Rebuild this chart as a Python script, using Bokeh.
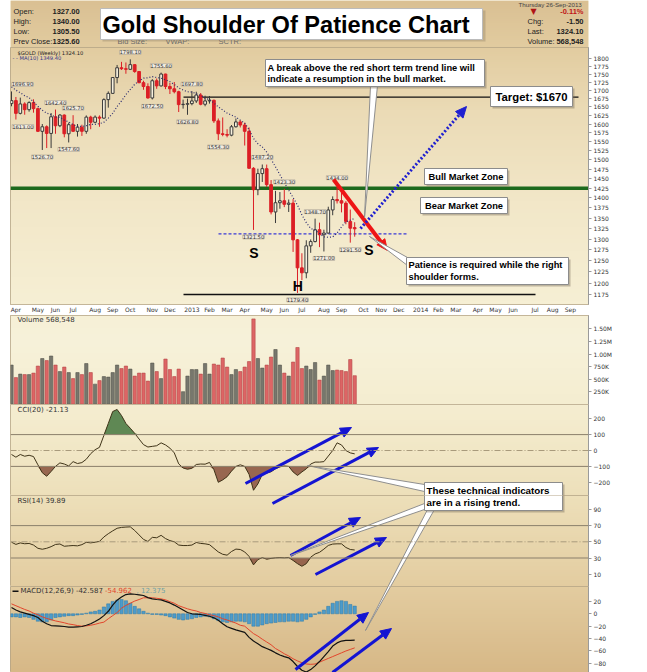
import math
import numpy as np
from datetime import date
from bokeh.plotting import figure
from bokeh.layouts import column
from bokeh.models import (Range1d, LinearScale, FixedTicker, PrintfTickFormatter,
                          Span, Label, ColumnDataSource)
from bokeh.core.properties import value
from bokeh.embed import file_html
from bokeh.resources import INLINE

# ------------------------------------------------------------------ data
FIRST_MONDAY = date(2012, 3, 26)      # first weekly bar

OPEN = [1660, 1669, 1631, 1659, 1642, 1663, 1645, 1579, 1592, 1573,
        1621, 1595, 1626, 1572, 1598, 1579, 1591, 1579, 1620, 1605,
        1620, 1617, 1672, 1691, 1740, 1771, 1768, 1766, 1781, 1759,
        1724, 1712, 1677, 1730, 1714, 1751, 1712, 1705, 1696, 1657,
        1658, 1660, 1668, 1686, 1658, 1668, 1670, 1609, 1572, 1570,
        1568, 1592, 1606, 1597, 1579, 1477, 1421, 1463, 1476, 1434,
        1365, 1388, 1393, 1384, 1387, 1298, 1234, 1223, 1284, 1294,
        1322, 1310, 1314, 1370, 1396, 1393, 1387, 1342, 1327]
HIGH = [1696.9, 1680, 1678, 1664, 1667, 1673, 1648, 1600, 1596, 1632,
        1642.4, 1629, 1628, 1604, 1625.7, 1600, 1598, 1625, 1624, 1625,
        1625, 1676, 1697, 1741, 1780, 1790, 1788, 1798.1, 1782, 1760,
        1730, 1722, 1735, 1737, 1755.6, 1752, 1723, 1726, 1699, 1672,
        1675, 1697.8, 1696, 1692, 1684, 1683, 1672, 1616, 1619, 1585,
        1597, 1616, 1611, 1604, 1590, 1480, 1476, 1487.2, 1487, 1446,
        1418, 1415, 1423.3, 1396, 1397, 1300, 1267, 1297, 1299, 1348.7,
        1339, 1322, 1378, 1404, 1434, 1417, 1392, 1371, 1340]
LOW = [1652, 1613, 1628, 1627, 1636, 1633, 1577, 1526.7, 1532, 1532,
       1572, 1591, 1562, 1547.6, 1577, 1564, 1566, 1572, 1585, 1602,
       1592, 1615, 1648, 1690, 1722, 1764, 1752, 1765, 1755, 1722,
       1702, 1675, 1672.5, 1705, 1712, 1704, 1689, 1691, 1635, 1645,
       1626.8, 1655, 1662, 1655, 1652, 1660, 1603, 1554.3, 1565, 1562,
       1565, 1590, 1590, 1539, 1476, 1321.5, 1407, 1441, 1428, 1359,
       1338, 1373, 1377, 1365, 1270, 1179.4, 1207, 1211, 1268, 1292,
       1281, 1271, 1313, 1357, 1386, 1364, 1335, 1291.5, 1305.5]
CLOSE = [1669, 1631, 1659, 1642, 1663, 1645, 1579, 1592, 1573, 1621,
         1595, 1626, 1572, 1598, 1579, 1591, 1579, 1620, 1605, 1620,
         1617, 1672, 1691, 1740, 1771, 1768, 1766, 1781, 1759, 1724,
         1712, 1677, 1730, 1714, 1751, 1712, 1705, 1696, 1657, 1658,
         1660, 1668, 1686, 1658, 1668, 1670, 1609, 1572, 1570, 1568,
         1592, 1606, 1597, 1579, 1477, 1421, 1463, 1476, 1434, 1365,
         1388, 1393, 1384, 1387, 1298, 1234, 1223, 1284, 1294, 1322,
         1310, 1314, 1370, 1396, 1393, 1387, 1342, 1325.6, 1324.1]
MA10 = [1711, 1701, 1693, 1684, 1678, 1665, 1652, 1640, 1632, 1627,
        1620, 1620, 1611, 1606, 1598, 1593, 1593, 1595, 1599, 1599,
        1601, 1605, 1617, 1631, 1651, 1668, 1687, 1703, 1719, 1729,
        1738, 1739, 1743, 1740, 1738, 1733, 1727, 1718, 1708, 1701,
        1696, 1695, 1690, 1685, 1676, 1672, 1662, 1650, 1641, 1632,
        1626, 1620, 1611, 1603, 1584, 1559, 1544, 1535, 1521, 1501,
        1481, 1460, 1439, 1420, 1401, 1382, 1358, 1339, 1325, 1321,
        1313, 1305, 1304, 1305, 1314, 1329, 1341, 1345, 1349.4]
VOLUME = [780000, 530000, 600000, 590000, 590000, 620000, 760000, 910000, 870000, 960000,
          780000, 650000, 740000, 630000, 510000, 630000, 590000, 810000, 630000, 400000,
          470000, 550000, 540000, 630000, 780000, 710000, 760000, 700000, 560000, 620000,
          620000, 460000, 820000, 650000, 510000, 900000, 690000, 550000, 700000, 250000,
          560000, 690000, 690000, 600000, 810000, 600000, 800000, 780000, 920000, 740000,
          590000, 690000, 650000, 740000, 850000, 1700000, 910000, 720000, 780000, 940000,
          1090000, 780000, 620000, 560000, 840000, 1130000, 710000, 760000, 690000, 830000,
          480000, 560000, 780000, 670000, 680000, 670000, 650000, 890000, 568548]
VOLUME_UP = [1, 0, 1, 0, 1, 0, 0, 1, 0, 1,
             0, 1, 0, 1, 0, 1, 0, 1, 0, 1,
             0, 1, 1, 1, 1, 0, 0, 1, 0, 0,
             0, 0, 1, 0, 1, 0, 0, 0, 0, 1,
             1, 1, 1, 0, 1, 1, 0, 0, 0, 0,
             1, 1, 0, 0, 0, 0, 1, 1, 0, 0,
             1, 1, 0, 1, 0, 0, 0, 1, 1, 1,
             0, 1, 1, 1, 0, 0, 0, 0, 0]
CCI20 = [-25, -42, -25, -36, -30, -38, -90, -140, -162, -132,
         -100, -78, -85, -97, -70, -82, -76, -55, -20, 5,
         20, 95, 170, 245, 258, 220, 170, 140, 108, 72,
         37, 22, 26, 30, 48, 35, 15, -15, -84, -110,
         -118, -112, -88, -85, -86, -75, -120, -200, -185, -165,
         -130, -100, -90, -100, -150, -250, -210, -150, -142, -134,
         -115, -103, -97, -100, -135, -157, -135, -115, -85, -73,
         -73, -70, -35, 0, 48, 35, 0, -15, -21.13]
RSI14 = [49.5, 46.8, 48.6, 47.6, 48, 46, 42, 40.8, 42, 44,
         46.7, 47.3, 44.5, 45, 45.4, 45, 46.5, 49.4, 48.7, 49.5,
         50.5, 56, 60, 63.5, 66.7, 67.8, 68.2, 68.5, 64, 58.5,
         53, 50.4, 55.5, 55, 58, 54, 51.5, 50, 46, 45.4,
         45.4, 46, 49.2, 48, 47.5, 46.5, 42, 37.5, 34.6, 33.5,
         38, 41, 40.5, 37.5, 32, 21.5, 28, 30.5, 28.5, 29.5,
         30.2, 30.5, 30.2, 30.6, 27, 23, 19.8, 23, 31, 35,
         37, 41, 45.5, 47.2, 47.5, 47.5, 43, 40.5, 39.89]
MACD_LINE = [10, 6, 3, 1, -1, -3, -6, -12, -16, -19,
             -19.5, -20, -20.5, -21.5, -21.5, -21, -20.5, -18.5, -16, -12.5,
             -8.5, -3, 4, 14, 22, 27, 31, 32, 31.5, 30.5,
             29.5, 26, 24, 23, 22.5, 20, 17.5, 14, 10, 6,
             2, 0, -0.5, -1.1, -2.5, -4, -6.5, -10.5, -16, -21,
             -23.5, -26, -28, -30, -38, -44, -48.5, -53, -56, -59,
             -63, -66.5, -69, -71, -77, -85, -91, -94, -90, -84,
             -77, -69, -61, -52, -47, -44, -43, -42.8, -42.587]
MACD_SIGNAL = [16, 13, 10, 7, 4.5, 1, -1.5, -5, -7.5, -9.5,
               -11.5, -13, -14.5, -16.5, -17.5, -19, -20, -19.5, -18.5, -17,
               -15, -13.5, -8, -3, 2, 9, 13.5, 17, 20.5, 23,
               25.8, 25.8, 25.8, 25, 24, 22.5, 19.5, 17, 13, 10.5,
               8, 6, 4.5, 2, 0.5, -1.5, -3, -5, -8, -10,
               -12.5, -15, -18.5, -20, -26, -32, -36, -41, -45.5, -50,
               -56, -60, -64.5, -68, -72.5, -76, -79, -81, -81.5, -81,
               -78, -75, -72, -69, -66, -63, -60, -57.5, -54.962]
MACD_HIST = [-5, -5, -6, -5, -6, -9, -12, -13, -13, -10,
             -6, -5, -4, -3, -3, -2, -1, 1, 3, 4,
             6, 11, 16, 20, 22, 23, 21, 17, 12, 8,
             4, 1, -1, -1, -2, -3, -5, -7, -9, -10,
             -9, -8, -6, -5, -4, -5, -8, -11, -13, -14,
             -13, -12, -12, -13, -16, -20, -20, -18, -16, -15,
             -14, -13, -13, -12, -12, -13, -12, -9, -5, -1,
             3, 6, 12, 17, 20, 21, 20, 15, 12.375]

# highs / lows that carry a value label
PEAK_BARS = [0, 1, 7, 10, 13, 14, 27, 32, 34, 40, 41, 47, 55, 57, 62, 65, 69, 71, 74, 77]
PEAK_KIND = ["H", "L", "L", "H", "L", "H", "H", "L", "H", "L",
             "H", "L", "L", "H", "H", "L", "H", "L", "H", "L"]

MONTH_LABELS = ["Apr", "May", "Jun", "Jul", "Aug", "Sep", "Oct", "Nov", "Dec", "2013",
                "Feb", "Mar", "Apr", "May", "Jun", "Jul", "Aug", "Sep", "Oct", "Nov",
                "Dec", "2014", "Feb", "Mar", "Apr", "May", "Jun", "Jul", "Aug", "Sep"]
PRICE_TICKS = [1175, 1200, 1225, 1250, 1275, 1300, 1325, 1350, 1375, 1400, 1425, 1450, 1475,
               1500, 1525, 1550, 1575, 1600, 1625, 1650, 1675, 1700, 1725, 1750, 1775, 1800]
VOLUME_TICKS = [250000, 500000, 750000, 1000000, 1250000, 1500000]
VOLUME_TICK_LABELS = ["250K", "500K", "750K", "1.00M", "1.25M", "1.50M"]
CCI_TICKS = [-200, -100, 0, 100, 200]
RSI_TICKS = [10, 30, 50, 70, 90]
MACD_TICKS = [20, 0, -20, -40, -60, -80]

TITLE = "Gold Shoulder Of Patience  Chart"
DATE_TEXT = "Thursday  26-Sep-2013"
NOTE_BREAK = ["A break above the red short term trend line will",
              "indicate a resumption in the bull market."]
NOTE_PATIENCE = ["Patience is required while the right", "shoulder forms."]
NOTE_INDICATORS = ["These technical indicators", "are in a rising trend."]
TARGET_TEXT = "Target: $1670"

# ------------------------------------------------------------------ layout helpers
FRAME_W = 578
LEFT = 10
SANS = "Liberation Sans"
VERD = "DejaVu Sans"
XR = Range1d(-0.227, 131.14)          # weekly bar index

BG_Y = [0, 47, 110, 200, 300, 340, 420, 500, 580, 672]
BG_R = [218, 226, 235, 242, 246, 247, 244, 237, 228, 215]
BG_G = [192, 204, 219, 231, 239, 242, 236, 223, 206, 184]
BG_B = [147, 160, 182, 200, 212, 218, 206, 185, 162, 135]


def add_bg(p, top, bottom):
    h = bottom - top
    rows = max(2, h // 2)
    cols = FRAME_W // 2
    ys = bottom - (np.arange(rows) + 0.5) * h / rows
    img = np.empty((rows, cols), dtype=np.uint32)
    v = img.view(dtype=np.uint8).reshape((rows, cols, 4))
    v[:, :, 0] = np.interp(ys, BG_Y, BG_R)[:, None]
    v[:, :, 1] = np.interp(ys, BG_Y, BG_G)[:, None]
    v[:, :, 2] = np.interp(ys, BG_Y, BG_B)[:, None]
    v[:, :, 3] = 255
    p.image_rgba(image=[img], x=0, y=0, dw=1, dh=1, x_range_name="bg",
                 y_range_name="bg", level="image")


def make_fig(top, bottom, y_range=None, log=False, date_axis=False, axes=True):
    kw = dict(frame_width=FRAME_W, frame_height=bottom - top,
              output_backend="svg", toolbar_location=None, title=None,
              min_border=0, min_border_left=LEFT, min_border_right=34,
              min_border_bottom=11 if date_axis else 0)
    if axes:
        p = figure(x_range=XR, y_range=y_range, y_axis_type="log" if log else "linear",
                   y_axis_location="right",
                   x_axis_location="below" if date_axis else None, **kw)
    else:
        p = figure(x_range=Range1d(10, 588), y_range=Range1d(bottom, top),
                   x_axis_location=None, y_axis_location=None, **kw)
    p.border_fill_color = "white"
    p.background_fill_color = "#efe3c2"
    p.outline_line_color = "#b3a385" if axes else None
    p.grid.visible = False
    p.extra_x_ranges = {"px": Range1d(10, 588), "bg": Range1d(0, 1)}
    p.extra_y_ranges = {"px": Range1d(bottom, top), "bg": Range1d(0, 1)}
    p.extra_x_scales = {"px": LinearScale(), "bg": LinearScale()}
    p.extra_y_scales = {"px": LinearScale(), "bg": LinearScale()}
    add_bg(p, top, bottom)
    return p


def style_yaxis(p, ticks):
    ax = p.yaxis[0]
    ax.ticker = FixedTicker(ticks=ticks)
    ax.major_label_text_font = VERD
    ax.major_label_text_font_size = "6px"
    ax.major_label_text_color = "#333333"
    ax.major_tick_out = 3
    ax.major_tick_in = 0
    ax.minor_tick_line_color = None
    ax.axis_line_color = "#9a9a9a"
    ax.major_tick_line_color = "#9a9a9a"
    ax.major_label_standoff = 2
    return ax


def text_px(p, x, y, s, size, color="#000000", bold=False, align="left", font=SANS):
    p.text(x=[x], y=[y], text=[s], text_font=value(font), text_font_size=f"{size}px",
           text_font_style="bold" if bold else "normal", text_color=color,
           text_align=align, text_baseline="middle", x_range_name="px", y_range_name="px")


def line_px(p, xs, ys, color, width, dash="solid"):
    p.line(xs, ys, line_color=color, line_width=width, line_dash=dash,
           x_range_name="px", y_range_name="px")


def arrow_px(p, x0, y0, x1, y1, color, width, dash="solid", hl=10.0, hw=9.0):
    dx, dy = x1 - x0, y1 - y0
    L = math.hypot(dx, dy)
    ux, uy = dx / L, dy / L
    bx, by = x1 - ux * hl, y1 - uy * hl
    line_px(p, [x0, bx], [y0, by], color, width, dash)
    nx, ny = -uy, ux
    p.patch([x1, bx + nx * hw / 2, bx - nx * hw / 2], [y1, by + ny * hw / 2, by - ny * hw / 2],
            fill_color=color, line_color=color, line_width=1,
            x_range_name="px", y_range_name="px")


def box_px(p, x0, y0, x1, y1, shadow=True):
    if shadow:
        p.quad(left=x0 + 2, right=x1 + 2, top=y0 + 2, bottom=y1 + 2, fill_color="#7d715f",
               fill_alpha=0.45, line_alpha=0, x_range_name="px", y_range_name="px")
    p.quad(left=x0, right=x1, top=y0, bottom=y1, fill_color="white", line_color="#8c8c8c",
           line_width=1, x_range_name="px", y_range_name="px")


def wedge_px(p, b0, b1, apex):
    p.patch([b0[0], b1[0], apex[0]], [b0[1], b1[1], apex[1]], fill_color="white",
            line_color="#8f8f8f", line_width=1, x_range_name="px", y_range_name="px")


def tag(p, y, s, border="#555555", bold=False, fill="white", color="#111111"):
    p.add_layout(Label(x=FRAME_W + 2, y=y, x_units="screen", y_units="data", text=s,
                       text_font=VERD, text_font_size="5.8px",
                       text_font_style="bold" if bold else "normal", text_color=color,
                       text_align="left", text_baseline="middle",
                       background_fill_color=fill, border_line_color=border,
                       border_line_width=0.8))


bars = np.arange(len(CLOSE))

# ------------------------------------------------------------------ header
head = make_fig(0, 47, axes=False)
rows_y = [11, 21, 31, 41]
for lab, val, yy in zip(["Open:", "High:", "Low:", "Prev Close:"],
                        [OPEN[-1], HIGH[-1], LOW[-1], CLOSE[-2]], rows_y):
    text_px(head, 13, yy, lab, 7.5, "#222222")
    text_px(head, 52, yy, f"{val:.2f}", 7.5, "#222222", bold=True)
for lab, xx in [("Bid Size:", 117), ("VWAP:", 165), ("SCTR:", 218)]:
    text_px(head, xx, 41, lab, 7.5, "#6a6a6a")
chg = CLOSE[-1] - CLOSE[-2]
text_px(head, 583, 3.6, DATE_TEXT, 6.2, "#444444", align="right")
text_px(head, 530, 11, "\u25bc", 8, "#b01515", font=VERD)
text_px(head, 583, 11, f"{chg / CLOSE[-2] * 100:.2f}%", 7.5, "#c01818", bold=True, align="right")
for lab, val, yy in [("Chg:", f"{chg:.2f}", 21), ("Last:", f"{CLOSE[-1]:.2f}", 31),
                     ("Volume:", f"{VOLUME[-1]:,}", 41)]:
    text_px(head, 527, yy, lab, 7.5, "#222222")
    text_px(head, 583, yy, val, 7.5, "#222222", bold=True, align="right")
head.quad(left=102, right=485, top=10, bottom=41, fill_color="#8a7a60", fill_alpha=0.35,
          line_alpha=0, x_range_name="px", y_range_name="px")
head.quad(left=100, right=482, top=8, bottom=39, fill_color="white", line_color="#bbbbbb",
          x_range_name="px", y_range_name="px")
text_px(head, 102, 24, TITLE, 23.6, "#000000", bold=True)

# ------------------------------------------------------------------ price panel
price = make_fig(47, 304, Range1d(1155, 1837), log=True, date_axis=True)
ax = style_yaxis(price, PRICE_TICKS)
ax.formatter = PrintfTickFormatter(format="%d")

month_ticks = []
yy_, mm_ = 2012, 4
for _ in MONTH_LABELS:
    days = (date(yy_, mm_, 1) - FIRST_MONDAY).days
    month_ticks.append(-(-days // 7))
    mm_ += 1
    if mm_ > 12:
        mm_, yy_ = 1, yy_ + 1
xa = price.xaxis[0]
xa.ticker = FixedTicker(ticks=month_ticks)
xa.major_label_overrides = {t: s for t, s in zip(month_ticks, MONTH_LABELS)}
xa.major_label_text_font = VERD
xa.major_label_text_font_size = "6px"
xa.major_label_text_color = "#333333"
xa.axis_line_color = None
xa.major_tick_line_color = None
xa.minor_tick_line_color = None
xa.major_tick_out = 0
xa.major_tick_in = 0
xa.minor_tick_out = 0
xa.minor_tick_in = 0
xa.major_label_standoff = 1

# support / resistance lines
line_px(price, [183, 578], [96.7, 96.7], "#111111", 1.3)
line_px(price, [10, 588], [187.7, 187.7], "#1d6a1d", 3.5)
line_px(price, [183, 535], [294, 294], "#111111", 1.3)
line_px(price, [218, 408], [233.3, 233.3], "#3a3ad6", 1.2, "3 2")

o = np.array(OPEN); c = np.array(CLOSE)
down = c < o
csrc = ColumnDataSource(dict(
    x=bars, top=np.maximum(o, c), bottom=np.minimum(o, c), high=HIGH, low=LOW,
    fill=["#dc1f26" if d else "#f7f1de" for d in down],
    line=["#dc1f26" if d else "#3a3a3a" for d in down]))
price.segment(x0="x", y0="low", x1="x", y1="high", line_color="line", line_width=1, source=csrc)
price.vbar(x="x", top="top", bottom="bottom", width=0.62, fill_color="fill",
           line_color="line", line_width=1, source=csrc)
price.line(bars, MA10, line_color="#2b2b70", line_width=1.2, line_dash="1 2")

lab_val = [HIGH[b] if k == "H" else LOW[b] for b, k in zip(PEAK_BARS, PEAK_KIND)]
EDGE_SHIFT = {0: 11, 1: 7}            # keep the two left-most labels inside the frame
lsrc = ColumnDataSource(dict(
    x=PEAK_BARS, y=lab_val, text=[f"{v:.2f}" for v in lab_val],
    yo=[-7 if k == "H" else 7 for k in PEAK_KIND],
    xo=[EDGE_SHIFT.get(b, 0) for b in PEAK_BARS]))
price.text(x="x", y="y", text="text", x_offset="xo", y_offset="yo", source=lsrc,
           text_font=value(VERD), text_font_size="5.2px", text_align="center",
           text_baseline="middle", text_color="#333333",
           background_fill_color="#f1ece0", border_line_color="#a8a090",
           border_line_width=0.6)

# trend arrows
arrow_px(price, 333, 179, 387, 250, "#ee1515", 4, hl=11, hw=10)
arrow_px(price, 360, 228, 466, 106, "#1f1fd0", 3, dash="2 2", hl=11, hw=10)

# callouts
wedge_px(price, (370, 85), (377, 85), (364, 217))
wedge_px(price, (407, 257), (407, 265), (369, 236))
box_px(price, 265, 59, 484, 86)
text_px(price, 267, 67, NOTE_BREAK[0], 9.3, bold=True)
text_px(price, 267, 78.7, NOTE_BREAK[1], 9.3, bold=True)
box_px(price, 490, 86, 572, 106)
text_px(price, 531, 96, TARGET_TEXT, 11.3, bold=True, align="center")
box_px(price, 424, 168, 507, 184)
text_px(price, 465.5, 176, "Bull Market Zone", 9.3, bold=True, align="center")
box_px(price, 420, 197, 507, 213)
text_px(price, 463.5, 205, "Bear Market Zone", 9.3, bold=True, align="center")
box_px(price, 406, 257, 568, 284)
text_px(price, 408, 264.7, NOTE_PATIENCE[0], 9.3, bold=True)
text_px(price, 408, 276, NOTE_PATIENCE[1], 9.3, bold=True)
text_px(price, 253.3, 252, "S", 14, bold=True, align="center")
text_px(price, 297.3, 285, "H", 14, bold=True, align="center")
text_px(price, 368.3, 249, "S", 14, bold=True, align="center")
text_px(price, 17, 52, f"$GOLD (Weekly) {CLOSE[-1]:.2f}", 5.2, "#222222", font=VERD)
text_px(price, 12, 57, f"- - MA(10) {MA10[-1]:.2f}", 5.2, "#34348a", font=VERD)
tag(price, MA10[-1], f"{MA10[-1]:.2f}", border="#5a64a0")
tag(price, CLOSE[-1], f"{CLOSE[-1]:.2f}", border="#111111", bold=True)

# ------------------------------------------------------------------ volume panel
vol = make_fig(315, 404, Range1d(-5940, 1768000))
vax = style_yaxis(vol, VOLUME_TICKS)
vax.major_label_overrides = {t: s for t, s in zip(VOLUME_TICKS, VOLUME_TICK_LABELS)}
vsrc = ColumnDataSource(dict(x=bars, top=VOLUME,
                             fill=["#77776d" if u else "#dd6565" for u in VOLUME_UP],
                             line=["#55554d" if u else "#b54848" for u in VOLUME_UP]))
vol.vbar(x="x", top="top", bottom=0, width=0.75, fill_color="fill", line_color="line",
         line_width=0.6, source=vsrc)
text_px(vol, 17, 319, f"Volume {VOLUME[-1]:,}", 7, "#333333", font=VERD)
tag(vol, VOLUME[-1], f"{VOLUME[-1]:.1f}", border="#777777")

# ------------------------------------------------------------------ CCI panel
cci = make_fig(404, 495, Range1d(-283, 289.3))
style_yaxis(cci, CCI_TICKS)
cv = np.array(CCI20)
cci.varea(x=bars, y1=100, y2=np.maximum(cv, 100), fill_color="#4f7d47", fill_alpha=0.9)
cci.varea(x=bars, y1=-100, y2=np.minimum(cv, -100), fill_color="#8e5944", fill_alpha=0.9)
for lv in (100, -100):
    cci.add_layout(Span(location=lv, dimension="width", line_color="#8a7f6a", line_width=1))
cci.add_layout(Span(location=0, dimension="width", line_color="#a89a7c", line_width=1,
                    line_dash="6 2 1 2"))
cci.line(bars, CCI20, line_color="#3f3318", line_width=1)
text_px(cci, 17, 409.3, f"CCI(20) {CCI20[-1]:.2f}", 7, "#333333", font=VERD)
tag(cci, CCI20[-1], f"{CCI20[-1]:.2f}", border="#555555")

# ------------------------------------------------------------------ RSI panel
rsi = make_fig(495, 586, Range1d(-5.2, 107.2))
style_yaxis(rsi, RSI_TICKS)
rv = np.array(RSI14)
rsi.varea(x=bars, y1=30, y2=np.minimum(rv, 30), fill_color="#8e5944", fill_alpha=0.9)
rsi.varea(x=bars, y1=70, y2=np.maximum(rv, 70), fill_color="#4f7d47", fill_alpha=0.9)
for lv in (70, 30):
    rsi.add_layout(Span(location=lv, dimension="width", line_color="#8a7f6a", line_width=1))
rsi.add_layout(Span(location=50, dimension="width", line_color="#a89a7c", line_width=1,
                    line_dash="6 2 1 2"))
rsi.line(bars, RSI14, line_color="#3f3318", line_width=1)
text_px(rsi, 17, 500, f"RSI(14) {RSI14[-1]:.2f}", 7, "#333333", font=VERD)
tag(rsi, RSI14[-1], f"{RSI14[-1]:.2f}", border="#555555")

# ------------------------------------------------------------------ MACD panel
macd = make_fig(586, 672, Range1d(-94.7, 44.0))
style_yaxis(macd, MACD_TICKS)
macd.vbar(x=bars, top=MACD_HIST, bottom=0, width=0.75, fill_color="#4d9bca",
          line_color="#2f7aa8", line_width=0.5)
macd.line(bars, MACD_SIGNAL, line_color="#e2452c", line_width=1)
macd.line(bars, MACD_LINE, line_color="#111111", line_width=1.2)
line_px(macd, [12, 18], [590.7, 590.7], "#111111", 1.5)
text_px(macd, 20, 590.7, f"MACD(12,26,9) {MACD_LINE[-1]:.3f}", 7, "#333333", font=VERD)
text_px(macd, 100, 590.7, f", {MACD_SIGNAL[-1]:.3f}", 7, "#e2452c", font=VERD)
text_px(macd, 136, 590.7, f", {MACD_HIST[-1]:.3f}", 7, "#6fa3a8", font=VERD)
tag(macd, MACD_HIST[-1], f"{MACD_HIST[-1]:.3f}", border="#5e9cc6")
tag(macd, MACD_LINE[-1], f"{MACD_LINE[-1]:.3f}", border="#111111")
tag(macd, MACD_SIGNAL[-1], f"{MACD_SIGNAL[-1]:.3f}", border="#e2452c", fill="#fbe3e3")

# ------------------------------------------------------------------ overlays across indicator panels
BLUE_ARROWS = [(245, 483, 351, 427), (272, 503, 378, 447), (290, 555, 360, 517),
               (315, 574, 386, 537), (295, 669, 368, 612), (332, 672, 391, 628)]
IND_BOX = (424, 482, 562, 510)
IND_WEDGES = [((424, 484), (424, 491), (307, 465)),
              ((424, 503), (424, 509), (290, 555)),
              ((427, 509), (434, 509), (365, 630))]
IND_LINES = [(426, 489.7, NOTE_INDICATORS[0]), (426, 501.7, NOTE_INDICATORS[1])]
for fig, top, bottom in [(cci, 404, 495), (rsi, 495, 586), (macd, 586, 672)]:
    for a in BLUE_ARROWS:
        if min(a[1], a[3]) < bottom + 6 and max(a[1], a[3]) > top - 6:
            arrow_px(fig, *a, "#1414d2", 3, hl=11, hw=10)
    for w in IND_WEDGES:
        wedge_px(fig, *w)
    box_px(fig, *IND_BOX)
    for (tx, ty, s) in IND_LINES:
        if top <= ty < bottom:
            text_px(fig, tx, ty, s, 9.8, bold=True)

layout = column(head, price, vol, cci, rsi, macd, spacing=0)
open("out.html", "w").write(file_html(layout, INLINE))
